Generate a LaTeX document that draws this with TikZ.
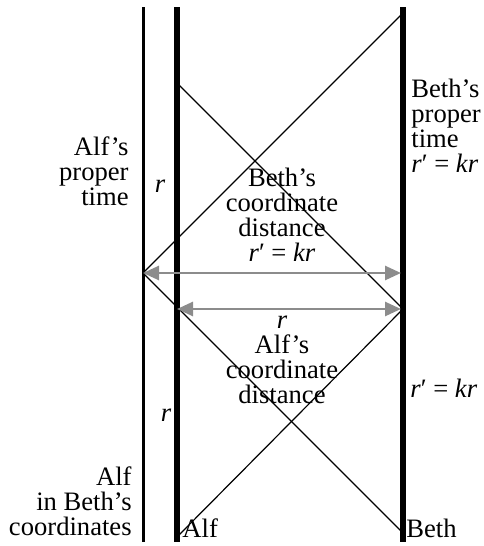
\documentclass[tikz,border=0pt]{standalone}
\usepackage{fontspec}
\setmainfont{Liberation Serif}
\usetikzlibrary{positioning,arrows.meta}

\newcommand{\rkr}{\textit{r}′ = \textit{kr}}

\begin{document}
\begin{tikzpicture}[
    x=0.5pt, y=-0.5pt,
    worldline/.style={line width=3pt},
    thinline/.style={line width=1.5pt},
    ray/.style={line width=0.6pt},
    distarrow/.style={{Triangle[length=8pt,width=7pt]}-{Triangle[length=8pt,width=7pt]}, line width=1.3pt, draw=black!45},
    txt/.style={font=\fontsize{13.3}{12.5}\selectfont, inner sep=0pt}
]
\useasboundingbox (0,0) rectangle (483,546);

\coordinate (obsTop) at (143,7);
\coordinate (obsBot) at (143,542);
\coordinate (alfTop) at (177,7);
\coordinate (alfBot) at (177,542);
\coordinate (bethTop) at (403,7);
\coordinate (bethBot) at (403,542);

\coordinate (emitA) at (143,273);
\coordinate (emitB) at (177,83);
\coordinate (emitC) at (177,537);
\coordinate (reachA) at (403,13);
\coordinate (reachB) at (403,309);
\coordinate (reachC) at (403,533);
\coordinate (tipA) at (401,273);
\coordinate (tipB) at (401,309);
\coordinate (tailB) at (177,309);

\draw[thinline] (obsTop) -- (obsBot);
\draw[worldline] (alfTop) -- (alfBot);
\draw[worldline] (bethTop) -- (bethBot);

\draw[ray] (emitA) -- (reachA);
\draw[ray] (emitA) -- (reachC);
\draw[ray] (emitB) -- (reachB);
\draw[ray] (emitC) -- (reachB);

\draw[distarrow] (emitA) -- (tipA);
\draw[distarrow] (tailB) -- (tipB);

\node[txt, align=right, anchor=base east] (alfProper) at (129,205) {Alf's\\proper\\time};
\node[txt, align=right, anchor=base east] (alfInBeth) at (132,535) {Alf\\in Beth's\\coordinates};
\node[txt, align=left, anchor=base west] (bethProper) at (411,172) {Beth's\\proper\\time\\\rkr};
\node[txt, align=center, anchor=base] (bethDist) at (282,261) {Beth's\\coordinate\\distance\\\rkr};
\node[txt, align=center, anchor=base] (alfDist) at (282,403) {\textit{r}\\Alf's\\coordinate\\distance};
\node[txt, anchor=base] (rUpper) at (160,192) {\textit{r}};
\node[txt, anchor=base] (rLower) at (166,421) {\textit{r}};
\node[txt, anchor=base west] (rkBeth) at (410,397) {\rkr};
\node[txt, anchor=base west] (alfName) at (182,537) {Alf};
\node[txt, anchor=base west] (bethName) at (406,537) {Beth};
\end{tikzpicture}
\end{document}
